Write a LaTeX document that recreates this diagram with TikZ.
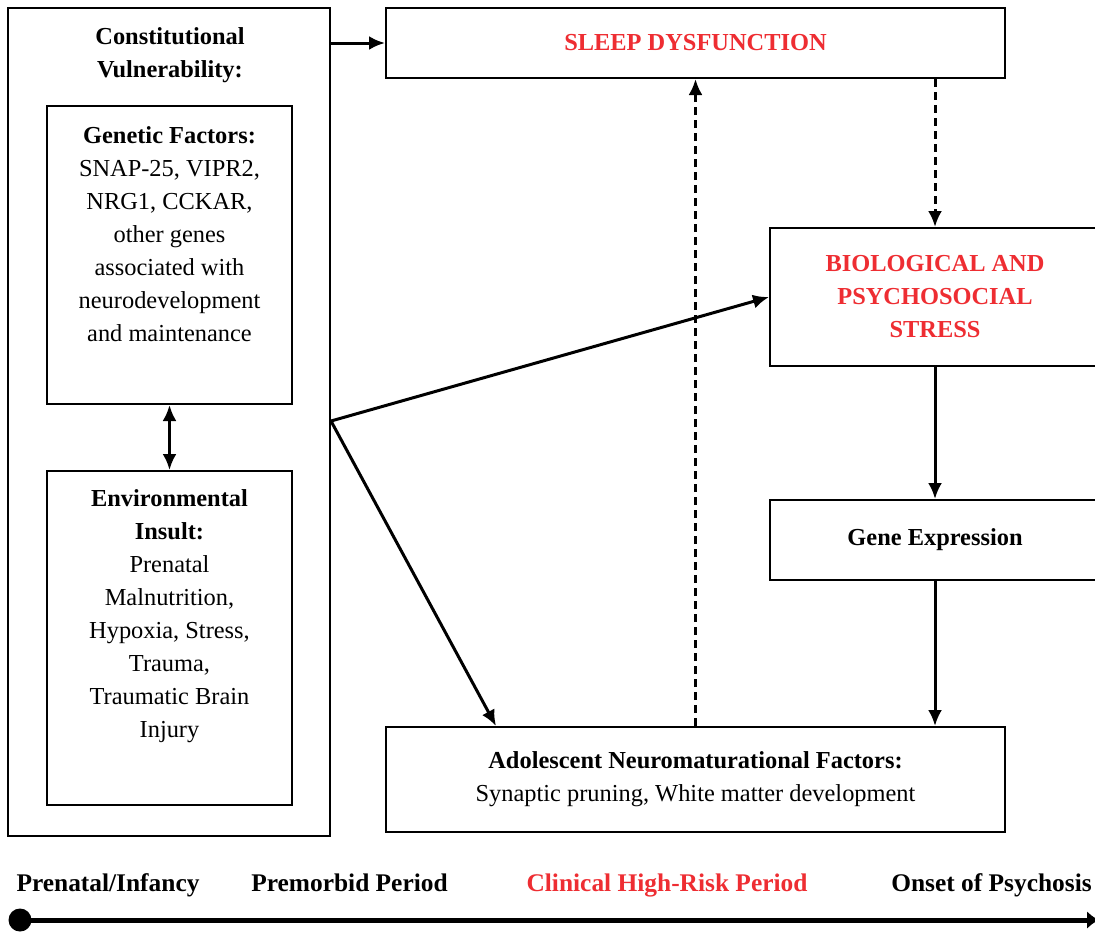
\documentclass[tikz,border=0pt]{standalone}
\usepackage{fontspec}
\setmainfont{Liberation Serif}
\usepackage{tikz}
\usepackage{xcolor}
\usetikzlibrary{positioning, arrows.meta}
\definecolor{riskred}{RGB}{238, 45, 50}
\tikzset{
    box/.style={draw, line width=1pt, inner sep=0pt},
    bodytext/.style={align=center, font=\fontsize{12.2}{16.5}\selectfont},
    headtext/.style={bodytext, font=\fontsize{12.2}{16.5}\selectfont\bfseries},
    redtext/.style={headtext, text=riskred},
    flow/.style={line width=1.5pt, -{Latex[length=8pt, width=7pt]}},
    dashflow/.style={flow, dash pattern=on 4pt off 2.5pt},
    period/.style={anchor=base, font=\fontsize{12.7}{15}\selectfont\bfseries}
}

\begin{document}
\begin{tikzpicture}[x=0.5pt, y=-0.5pt]
    \useasboundingbox (0,0) rectangle (1095,932);
    % left column
    \node[box, minimum width=161pt, minimum height=414pt] (vuln) at (169,422) {};
    \node[headtext] (vulntext) at (170,55) {Constitutional\\Vulnerability:};
    \node[box, minimum width=122.5pt, minimum height=149pt] (genetic) at (169.5,255) {};
    \node[bodytext] (gentext) at (169.5,234) {\textbf{Genetic Factors:}\\SNAP-25, VIPR2,\\NRG1, CCKAR,\\other genes\\associated with\\neurodevelopment\\and maintenance};
    \node[box, minimum width=122.5pt, minimum height=167pt] (environ) at (169.5,638) {};
    \node[bodytext] (envtext) at (169.5,616) {\textbf{Environmental}\\\textbf{Insult:}\\Prenatal\\Malnutrition,\\Hypoxia, Stress,\\Trauma,\\Traumatic Brain\\Injury};
    % right column
    \node[box, redtext, minimum width=309.5pt, minimum height=35pt] (sleep) at (695.5,43) {SLEEP DYSFUNCTION};
    \node[box, redtext, minimum width=165pt, minimum height=69pt] (stress) at (935,297) {BIOLOGICAL AND\\PSYCHOSOCIAL\\STRESS};
    \node[box, headtext, minimum width=165pt, minimum height=40pt] (geneexp) at (935,540) {Gene Expression};
    \node[box, bodytext, minimum width=309.5pt, minimum height=52.5pt] (neuro) at (695.5,779.5) {\textbf{Adolescent Neuromaturational Factors:}\\Synaptic pruning, White matter development};
    \coordinate (split) at (331,421);

    \draw[{Latex[length=8pt, width=7pt]}-{Latex[length=8pt, width=7pt]}, line width=1.5pt] (genetic.south) -- (environ.north);
    \draw[flow] (sleep.west -| vuln.east) -- (sleep.west);
    \draw[flow] (split) -- (stress.west);
    \draw[flow] (split) -- ([xshift=55.5pt]neuro.north west);
    \draw[dashflow] (sleep.south -| stress.north) -- (stress.north);
    \draw[flow] (stress.south) -- (geneexp.north);
    \draw[flow] (geneexp.south) -- (neuro.north -| geneexp.south);
    \draw[dashflow] (neuro.north) -- (sleep.south);

    % timeline
    \node[period] (infancy) at (108,891) {Prenatal/Infancy};
    \node[period] (premorbid) at (349.5,891) {Premorbid Period};
    \node[period, text=riskred] (highrisk) at (667,891) {Clinical High-Risk Period};
    \node[period] (onset) at (991.5,891) {Onset of Psychosis};
    \node[circle, fill, inner sep=0pt, minimum size=11.5pt] (start) at (20,920) {};
    \coordinate (finish) at (1099,920);
    \draw[line width=2.5pt, -{Latex[length=6pt, width=9pt]}] (start.center) -- (finish);
\end{tikzpicture}
\end{document}
